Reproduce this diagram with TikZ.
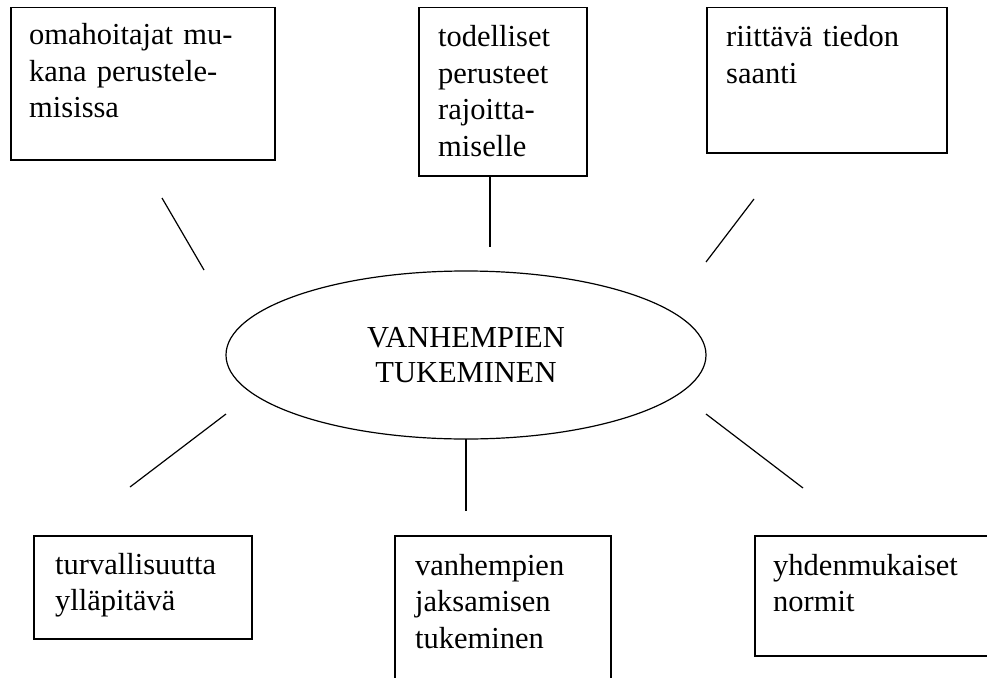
\documentclass[tikz,border=0pt]{standalone}
\usepackage{fontspec}
\setmainfont{Liberation Serif}
\usetikzlibrary{shapes.geometric}
\begin{document}
\begin{tikzpicture}[x=1pt,y=-1pt,
  box/.style={draw=black, line width=1.5pt, rectangle, inner sep=0pt, anchor=north west},
  txt/.style={anchor=base west, inner sep=0pt, text width=240pt, align=left, font=\fontsize{30.5}{36.5}\selectfont},
  spoke/.style={draw=black, line width=1.2pt},
  hub/.style={draw=black, line width=1.2pt, ellipse, inner sep=0pt, align=center, font=\fontsize{30.5}{35}\selectfont}]
\useasboundingbox (0,0) rectangle (987,677);
% boxes
\node[box, minimum width=264pt, minimum height=152pt] (b1) at (10,7) {};
\node[box, minimum width=168pt, minimum height=168pt] (b2) at (418,7) {};
\node[box, minimum width=240pt, minimum height=145pt] (b3) at (706,7) {};
\node[box, minimum width=218pt, minimum height=103pt] (b4) at (33,535) {};
\node[box, minimum width=216pt, minimum height=160pt] (b5) at (394,535) {};
\node[box, minimum width=245pt, minimum height=120pt] (b6) at (754,535) {};
% texts
\node[txt] (t1) at (29,45) {omahoitajat mu-\\kana perustele-\\misissa};
\node[txt] (t2) at (438,47) {todelliset\\perusteet\\rajoitta-\\miselle};
\node[txt] (t3) at (726,47) {riittävä tiedon\\saanti};
\node[txt] (t4) at (55,574) {turvallisuutta\\ylläpitävä};
\node[txt] (t5) at (415,575) {vanhempien\\jaksamisen\\tukeminen};
\node[txt] (t6) at (773,575) {yhdenmukaiset\\normit};
% hub
\node[hub, minimum width=480pt, minimum height=168pt] (c) at (466,355) {VANHEMPIEN\\TUKEMINEN};
% spoke ends
\coordinate (s1a) at (162,198); \coordinate (s1b) at (204,270);
\coordinate (s2a) at (490,175); \coordinate (s2b) at (490,247);
\coordinate (s3a) at (754,199); \coordinate (s3b) at (706,262);
\coordinate (s4a) at (226,414); \coordinate (s4b) at (130,487);
\coordinate (s5a) at (466,439); \coordinate (s5b) at (466,511);
\coordinate (s6a) at (706,414); \coordinate (s6b) at (803,488);
\draw[spoke] (s1a) -- (s1b);
\draw[spoke] (s2a) -- (s2b);
\draw[spoke] (s3a) -- (s3b);
\draw[spoke] (s4a) -- (s4b);
\draw[spoke] (s5a) -- (s5b);
\draw[spoke] (s6a) -- (s6b);
\end{tikzpicture}
\end{document}
